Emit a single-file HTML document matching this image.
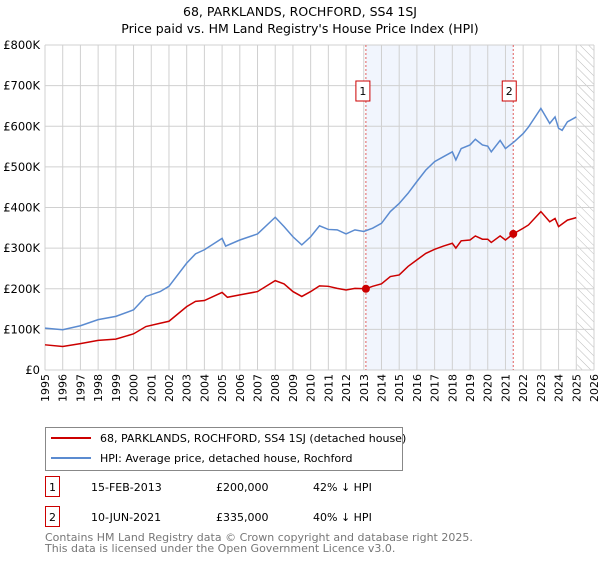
<!DOCTYPE html>
<html><head><meta charset="utf-8"><style>
body{margin:0;background:#fff;font-family:"Liberation Sans","DejaVu Sans",sans-serif}
svg text{font-family:"DejaVu Sans","Liberation Sans",sans-serif}
</style></head><body>
<svg width="600" height="560" viewBox="0 0 600 560" id="c">
<text x="300" y="16" text-anchor="middle" font-size="12.5">68, PARKLANDS, ROCHFORD, SS4 1SJ</text>
<text x="300" y="33" text-anchor="middle" font-size="12.5">Price paid vs. HM Land Registry's House Price Index (HPI)</text>
<g id="plot"></g>
<g>
<rect x="45.5" y="427.5" width="357" height="43" fill="#fff" stroke="#888"/>
<line x1="51" y1="438" x2="91" y2="438" stroke="#cc0000" stroke-width="2"/>
<text x="100" y="442" font-size="11">68, PARKLANDS, ROCHFORD, SS4 1SJ (detached house)</text>
<line x1="51" y1="458" x2="91" y2="458" stroke="#5b8bd0" stroke-width="2"/>
<text x="100" y="462" font-size="11">HPI: Average price, detached house, Rochford</text>
</g>
<g font-size="11">
<rect x="45.5" y="476.5" width="14" height="20" fill="#fff" stroke="#cc0000"/>
<text x="52.5" y="491" text-anchor="middle">1</text>
<text x="91" y="491">15-FEB-2013</text><text x="216" y="491">£200,000</text><text x="313" y="491">42% ↓ HPI</text>
<rect x="45.5" y="506.5" width="14" height="20" fill="#fff" stroke="#cc0000"/>
<text x="52.5" y="521" text-anchor="middle">2</text>
<text x="91" y="521">10-JUN-2021</text><text x="216" y="521">£335,000</text><text x="313" y="521">40% ↓ HPI</text>
</g>
<text x="45" y="541" font-size="11" fill="#777">Contains HM Land Registry data © Crown copyright and database right 2025.</text>
<text x="45" y="552" font-size="11" fill="#777">This data is licensed under the Open Government Licence v3.0.</text>
</svg>
<script>
const yearTicks=[1995,1996,1997,1998,1999,2000,2001,2002,2003,2004,2005,2006,2007,2008,2009,2010,2011,2012,2013,2014,2015,2016,2017,2018,2019,2020,2021,2022,2023,2024,2025,2026];
const valueTicks=[0,100,200,300,400,500,600,700,800];
const valueTickLabels=["£0","£100K","£200K","£300K","£400K","£500K","£600K","£700K","£800K"];
const hpiYears=[1995,1996,1997,1998,1999,2000,2000.7,2001.5,2002,2003,2003.5,2004,2005,2005.2,2006,2007,2008,2008.5,2009,2009.5,2010,2010.5,2011,2011.5,2012,2012.5,2013,2013.5,2014,2014.5,2015,2015.5,2016,2016.5,2017,2017.5,2018,2018.2,2018.5,2019,2019.3,2019.7,2020,2020.2,2020.7,2021,2021.5,2022,2022.3,2023,2023.5,2023.8,2024,2024.2,2024.5,2025];
const hpiValues=[103,99,109,124,132,148,181,193,206,263,286,296,324,305,320,335,376,353,328,308,328,355,346,345,335,345,341,349,361,390,410,435,464,492,513,525,537,517,545,554,568,554,551,537,565,545,562,582,598,644,607,623,595,590,611,623];
const priceYears=[1995,1996,1997,1998,1999,2000,2000.7,2001.5,2002,2003,2003.5,2004,2005,2005.3,2006,2007,2008,2008.5,2009,2009.5,2010,2010.5,2011,2011.5,2012,2012.5,2013.12,2013.5,2014,2014.5,2015,2015.5,2016,2016.5,2017,2017.5,2018,2018.2,2018.5,2019,2019.3,2019.7,2020,2020.2,2020.7,2021,2021.44,2022,2022.3,2023,2023.5,2023.8,2024,2024.5,2025];
const priceValues=[62,58,65,73,76,89,107,115,120,156,169,171,191,179,185,193,220,212,193,181,193,207,206,201,197,201,200,206,212,230,234,255,271,287,297,305,312,300,318,320,330,322,322,314,330,320,335,349,357,390,365,373,353,369,375];
const saleYears=[2013.12,2021.44];
const saleValues=[200,335];
const saleLabels=["1","2"];

const NS="http://www.w3.org/2000/svg";
const L=45,R=594,T=45,B=370;
const x=y=>L+(y-1995)/(2026-1995)*(R-L);
const y=v=>B-v/800*(B-T);
const g=document.getElementById('plot');
function mk(t,a,p){const e=document.createElementNS(NS,t);for(const k in a)e.setAttribute(k,a[k]);(p||g).appendChild(e);return e;}
// shaded period
let sh=mk('rect',{x:x(saleYears[0]),y:T,width:x(saleYears[1])-x(saleYears[0]),height:B-T,fill:'#eef3fc',opacity:0.8});


// hatch
const defs=mk('defs',{});
const pat=mk('pattern',{id:'hp',width:6,height:6,patternUnits:'userSpaceOnUse',patternTransform:'rotate(-45)'},defs);
mk('line',{x1:0,y1:0,x2:0,y2:6,stroke:'#bbb','stroke-width':1},pat);
let hr=mk('rect',{x:x(2025.05),y:T,width:R-x(2025.05),height:B-T,fill:'url(#hp)'});


// grid
yearTicks.forEach(t=>{
 const ln=mk('line',{x1:x(t),x2:x(t),y1:T,y2:B,stroke:'#d0d0d0'});
 
 
 const tx=mk('text',{x:0,y:0,'font-size':11,'text-anchor':'end',transform:`translate(${x(t)+4},${B+4}) rotate(-90)`});
 tx.textContent=t;
 
 
});
valueTicks.forEach((v,i)=>{
 const ln=mk('line',{x1:L,x2:R,y1:y(v),y2:y(v),stroke:'#d0d0d0'});
 
 
 const tx=mk('text',{x:L-5,y:y(v)+4,'font-size':11.5,'text-anchor':'end'});
 tx.textContent=valueTickLabels[i];
 
 
});
// sale vlines
saleYears.forEach((s,i)=>{
 const ln=mk('line',{x1:x(s),x2:x(s),y1:T,y2:B,stroke:'#e06060','stroke-dasharray':'2,2'});
 
 
 const bx=x(s)-(i==0?3:4);
 const r=mk('rect',{x:bx-7,y:81,width:14,height:20,fill:'#fff',stroke:'#cc0000'});
 
 
 const t=mk('text',{x:bx,y:95,'font-size':11,'text-anchor':'middle'});
 t.textContent=saleLabels[i];
 
 
});
// lines
const hp=mk('polyline',{points:hpiYears.map((t,i)=>x(t)+','+y(hpiValues[i])).join(' '),fill:'none',stroke:'#5b8bd0','stroke-width':1.5});


const pp=mk('polyline',{points:priceYears.map((t,i)=>x(t)+','+y(priceValues[i])).join(' '),fill:'none',stroke:'#cc0000','stroke-width':1.5});


saleYears.forEach((s,i)=>{
 const c=mk('circle',{cx:x(s),cy:y(saleValues[i]),r:4,fill:'#cc0000'});
 
 
});
</script>
</body></html>
